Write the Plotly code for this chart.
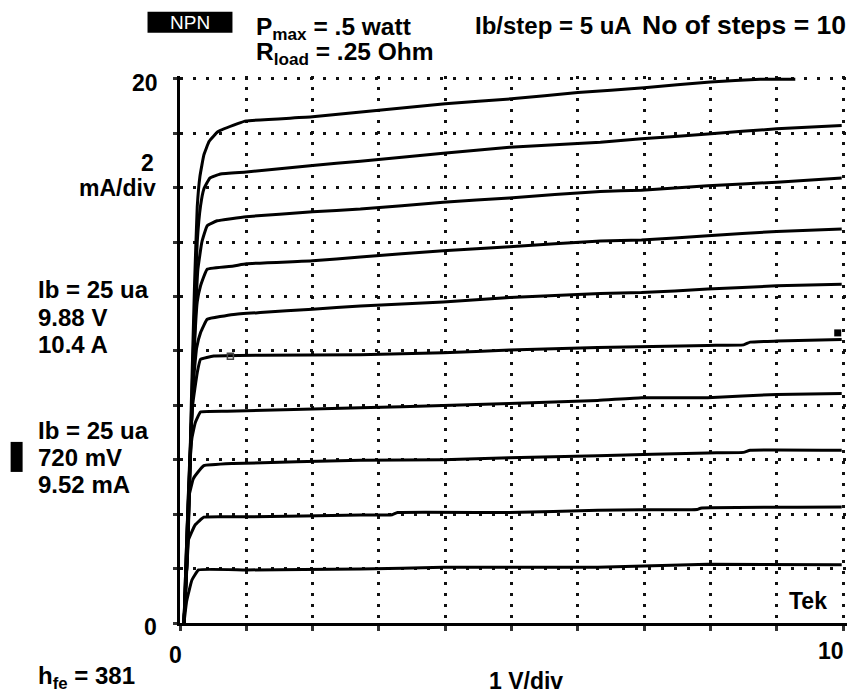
import plotly.graph_objects as go

# ---------------- data ----------------
# collector voltage (V) and collector current (mA) for each base-current step
v_c1 = [0.06, 0.12, 0.17, 0.22, 0.26, 0.3, 0.36, 0.44, 0.57, 0.87, 1.0, 2.0, 3.0, 4.0, 5.0, 6.0, 7.0, 8.0, 8.75, 9.28]
i_c1 = [0.0, 3.0, 8.0, 12.5, 15.3, 16.4, 17.2, 17.7, 18.05, 18.35, 18.45, 18.6, 18.84, 19.08, 19.26, 19.49, 19.67, 19.88, 19.98, 19.98]

v_c2 = [0.06, 0.12, 0.17, 0.22, 0.26, 0.31, 0.36, 0.45, 0.61, 1.0, 2.0, 2.72, 3.97, 4.97, 6.34, 6.96, 7.96, 9.0, 9.98]
i_c2 = [0.0, 2.8, 7.5, 11.5, 14.0, 15.33, 15.95, 16.35, 16.5, 16.57, 16.81, 16.97, 17.26, 17.48, 17.67, 17.79, 17.97, 18.16, 18.28]

v_c3 = [0.06, 0.11, 0.17, 0.22, 0.27, 0.33, 0.41, 0.56, 1.0, 2.0, 2.72, 3.97, 4.97, 6.34, 6.96, 7.96, 9.0, 9.98]
i_c3 = [0.0, 2.5, 7.0, 10.5, 13.0, 14.0, 14.6, 14.78, 14.93, 15.11, 15.21, 15.46, 15.62, 15.86, 15.9, 16.07, 16.2, 16.35]

v_c4 = [0.06, 0.1, 0.16, 0.21, 0.26, 0.31, 0.41, 0.81, 1.0, 2.0, 2.72, 3.97, 4.97, 6.34, 6.96, 7.96, 9.0, 9.98]
i_c4 = [0.0, 2.0, 6.5, 9.8, 11.8, 12.39, 13.0, 13.12, 13.2, 13.31, 13.45, 13.68, 13.83, 14.04, 14.07, 14.23, 14.39, 14.48]

v_c5 = [0.06, 0.1, 0.15, 0.2, 0.25, 0.31, 0.41, 0.81, 1.21, 2.0, 2.72, 3.97, 4.97, 6.34, 6.96, 7.96, 9.0, 9.98]
i_c5 = [0.0, 2.0, 6.0, 8.8, 10.1, 10.67, 11.16, 11.34, 11.41, 11.53, 11.65, 11.8, 11.96, 12.11, 12.14, 12.27, 12.39, 12.45]

v_c6 = [0.06, 0.09, 0.14, 0.19, 0.26, 0.31, 0.51, 1.21, 2.72, 3.97, 4.97, 6.3, 7.96, 8.5, 8.6, 9.0, 9.98]
i_c6 = [0.0, 2.0, 5.6, 8.0, 9.2, 9.69, 9.81, 9.84, 9.86, 9.93, 10.03, 10.12, 10.2, 10.22, 10.32, 10.36, 10.42]

v_c7 = [0.06, 0.08, 0.13, 0.18, 0.23, 0.31, 0.71, 2.72, 3.97, 4.97, 6.3, 6.96, 7.96, 9.0, 9.98]
i_c7 = [0.0, 1.5, 5.0, 6.8, 7.36, 7.75, 7.78, 7.91, 7.99, 8.07, 8.18, 8.28, 8.28, 8.4, 8.43]

v_c8 = [0.06, 0.08, 0.13, 0.2, 0.26, 0.36, 0.8, 2.72, 3.97, 4.97, 6.3, 7.96, 8.5, 8.6, 9.98]
i_c8 = [0.0, 1.5, 4.6, 5.3, 5.51, 5.78, 5.86, 5.98, 6.0, 6.07, 6.15, 6.25, 6.27, 6.35, 6.35]

v_c9 = [0.06, 0.08, 0.12, 0.23, 0.36, 1.0, 2.72, 3.2, 3.28, 4.97, 6.3, 6.96, 7.8, 7.85, 9.98]
i_c9 = [0.0, 1.2, 3.0, 3.61, 3.89, 3.9, 3.97, 3.98, 4.06, 4.06, 4.14, 4.16, 4.17, 4.22, 4.26]

v_c10 = [0.06, 0.1, 0.18, 0.28, 1.0, 2.72, 3.97, 6.3, 7.96, 9.98]
i_c10 = [0.0, 0.8, 1.58, 1.95, 1.95, 1.98, 2.05, 2.05, 2.16, 2.14]

curves_v = [v_c1, v_c2, v_c3, v_c4, v_c5, v_c6, v_c7, v_c8, v_c9, v_c10]
curves_i = [i_c1, i_c2, i_c3, i_c4, i_c5, i_c6, i_c7, i_c8, i_c9, i_c10]

# cursor markers
cursor_open_v = [0.76]
cursor_open_i = [9.8]
cursor_fill_v = [9.92]
cursor_fill_i = [10.66]

x_range = [0, 10.06]
y_range = [0, 20.1]
x_ticks = [0, 1, 2, 3, 4, 5, 6, 7, 8, 9, 10]
y_ticks = [0, 2, 4, 6, 8, 10, 12, 14, 16, 18, 20]

# ---------------- layout geometry (reference page pixels) ----------------
OFF = 8                      # page body margin
W, H = 858 - OFF, 693 - OFF
X0, X10 = 179.5, 843         # pixel of 0 V and 10 V
Y0, Y20 = 623, 79            # pixel of 0 mA and 20 mA
PL = X0
PR = X0 + (X10 - X0) * x_range[1] / 10
PB = Y0
PT = Y0 - (Y0 - Y20) * y_range[1] / 20


def px(x):
    return (x - PL) / (PR - PL)


def py(y):
    return (PB - y) / (PB - PT)


FONT = "Liberation Sans, Arial, sans-serif"

fig = go.Figure()
for vv, ii in zip(curves_v, curves_i):
    fig.add_trace(go.Scatter(x=vv, y=ii, mode="lines",
                             line=dict(color="black", width=3, shape="spline", smoothing=0.3),
                             showlegend=False, hoverinfo="skip"))

fig.add_trace(go.Scatter(x=cursor_open_v, y=cursor_open_i, mode="markers",
                         marker=dict(symbol="square-open", size=6, color="#444",
                                     line=dict(width=1.5, color="#444")),
                         showlegend=False, hoverinfo="skip"))
fig.add_trace(go.Scatter(x=cursor_fill_v, y=cursor_fill_i, mode="markers",
                         marker=dict(symbol="square", size=7, color="black"),
                         showlegend=False, hoverinfo="skip"))

fig.update_xaxes(range=x_range, tickvals=x_ticks, showticklabels=False,
                 showgrid=True, gridcolor="#111", gridwidth=3, griddash="3px,8px",
                 showline=True, linecolor="black", linewidth=2.5,
                 ticks="outside", ticklen=5, tickwidth=2.5, tickcolor="#333",
                 zeroline=False, fixedrange=True)
fig.update_yaxes(range=y_range, tickvals=y_ticks, showticklabels=False,
                 showgrid=True, gridcolor="#111", gridwidth=3, griddash="3px,10px",
                 showline=True, linecolor="black", linewidth=2.5,
                 ticks="outside", ticklen=4, tickwidth=2.5, tickcolor="#333",
                 zeroline=False, fixedrange=True)

ann = []


def txt(t, x, y, xa="left", size=24, color="black", ya="middle", bg=None):
    d = dict(text=t, x=px(x), y=py(y), xref="paper", yref="paper",
             xanchor=xa, yanchor=ya, showarrow=False,
             font=dict(family=FONT, size=size, color=color))
    if bg:
        d["bgcolor"] = bg
    ann.append(d)


B = lambda s: "<b>" + s + "</b>"

txt("NPN", 189.5, 22.5, xa="center", size=19, color="white")
txt(B("P<sub>max</sub> = .5 watt"), 254, 29, size=24.5)
txt(B("R<sub>load</sub> = .25 Ohm"), 254, 54, size=24.5)
txt(B("Ib/step = 5 uA"), 473, 25.5, size=24)
txt(B("No of steps = 10"), 640, 25.5, size=26.5)
txt(B("20"), 159, 83, xa="right", size=23)
txt(B("2"), 147, 163, xa="center", size=23)
txt(B("mA/div"), 117, 188, xa="center", size=23)
txt(B("Ib = 25 ua"), 35, 290, size=24)
txt(B("9.88 V"), 35, 318, size=24)
txt(B("10.4 A"), 35, 345, size=24)
txt(B("Ib = 25 ua"), 35, 431, size=24)
txt(B("720 mV"), 35, 458, size=24)
txt(B("9.52 mA"), 35, 485, size=24)
txt(B("0"), 158, 627, xa="right", size=23)
txt(B("0"), 175, 655, xa="center", size=23)
txt(B("10"), 846, 651, xa="right", size=23)
txt(B("1 V/div"), 526, 681, xa="center", size=23)
txt(B("h<sub>fe</sub> = 381"), 35, 677, size=24)
txt(B("Tek"), 808, 601, xa="center", size=23, bg="white")

shapes = [
    dict(type="rect", xref="paper", yref="paper", x0=px(147), x1=px(232),
         y0=py(33), y1=py(12), fillcolor="black", line=dict(width=0), layer="below"),
    dict(type="rect", xref="paper", yref="paper", x0=px(10), x1=px(22),
         y0=py(472), y1=py(442), fillcolor="black", line=dict(width=0)),
]

fig.update_layout(width=W, height=H, autosize=False,
                  margin=dict(l=PL - OFF, r=W - (PR - OFF), t=PT - OFF, b=H - (PB - OFF), pad=0),
                  paper_bgcolor="white", plot_bgcolor="white",
                  annotations=ann, shapes=shapes, showlegend=False)

fig.write_html("out.html")
